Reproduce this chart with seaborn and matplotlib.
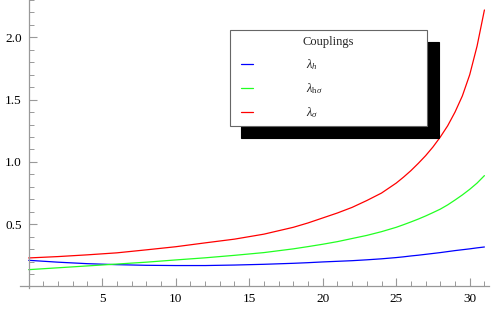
import numpy as np
import pandas as pd
import matplotlib
matplotlib.use("Agg")
import matplotlib.pyplot as plt
from matplotlib.ticker import FixedLocator
from matplotlib.lines import Line2D
from matplotlib.legend_handler import HandlerLine2D
import seaborn as sns

# values
t = [0, 2, 4, 6, 8, 10, 12, 14, 16, 18, 19, 20, 21, 22, 23, 24, 25, 25.5, 26, 26.5,
     27, 27.5, 28, 28.5, 29, 29.5, 30, 30.5, 31]
lam_h = [0.210, 0.195, 0.183, 0.175, 0.170, 0.168, 0.168, 0.172, 0.178, 0.186, 0.191,
         0.197, 0.202, 0.207, 0.214, 0.222, 0.232, 0.238, 0.245, 0.251, 0.258, 0.265,
         0.272, 0.280, 0.288, 0.295, 0.302, 0.310, 0.317]
lam_hs = [0.135, 0.150, 0.165, 0.180, 0.195, 0.213, 0.230, 0.250, 0.272, 0.302, 0.320,
          0.339, 0.360, 0.385, 0.410, 0.440, 0.475, 0.496, 0.518, 0.541, 0.566, 0.593,
          0.621, 0.655, 0.694, 0.735, 0.780, 0.830, 0.890]
lam_s = [0.229, 0.240, 0.254, 0.270, 0.294, 0.319, 0.350, 0.380, 0.420, 0.475, 0.510,
         0.550, 0.590, 0.635, 0.690, 0.750, 0.830, 0.878, 0.930, 0.988, 1.050, 1.120,
         1.200, 1.290, 1.400, 1.530, 1.700, 1.930, 2.220]

labels = [r"$\lambda_h$", r"$\lambda_{\mathrm{h}\sigma}$", r"$\lambda_\sigma$"]
colors = ["#0000ff", "#22ff22", "#ff0000"]

x_major = [5, 10, 15, 20, 25, 30]
y_major = [0.5, 1.0, 1.5, 2.0]

df = pd.concat([
    pd.DataFrame({"t": t, "value": v, "coupling": lab})
    for v, lab in zip([lam_h, lam_hs, lam_s], labels)
])

sns.set_style("white")
plt.rcParams["font.family"] = ["Liberation Serif", "DejaVu Serif"]
plt.rcParams["mathtext.fontset"] = "custom"
plt.rcParams["mathtext.rm"] = "Liberation Serif"
plt.rcParams["mathtext.it"] = "Liberation Serif:italic"

fig = plt.figure(figsize=(5, 3.13), dpi=100)
ax = fig.add_axes([0, 0, 1, 1])
ax.set_facecolor("white")

sns.lineplot(data=df, x="t", y="value", hue="coupling", hue_order=labels,
             palette=colors, linewidth=0.9, ax=ax)

ax.set_xlim(-1.95, 32.06)
ax.set_ylim(-0.213, 2.30)
ax.set_xlabel("")
ax.set_ylabel("")

for s in ["top", "right"]:
    ax.spines[s].set_visible(False)
ax.spines["left"].set_position(("data", 0))
ax.spines["bottom"].set_position(("data", 0))
ax.spines["bottom"].set_bounds(-0.6, 31.3)
ax.spines["left"].set_bounds(-0.01, 2.30)
for s in ["left", "bottom"]:
    ax.spines[s].set_color("#999999")
    ax.spines[s].set_linewidth(0.9)

ax.set_xticks(x_major)
ax.set_xticklabels([str(v) for v in x_major])
ax.set_yticks(y_major)
ax.set_yticklabels([f"{v:.1f}" for v in y_major])
ax.xaxis.set_minor_locator(FixedLocator([v for v in range(1, 32) if v % 5]))
ax.yaxis.set_minor_locator(FixedLocator([round(0.1 * k, 1) for k in range(1, 24) if k % 5]))
ax.tick_params(which="both", bottom=True, left=True, direction="in", color="#999999")
ax.tick_params(which="major", length=6, width=0.8, labelsize=9.5, labelcolor="black")
ax.tick_params(which="minor", length=3.5, width=0.7)
ax.tick_params(axis="x", which="major", pad=5)
ax.tick_params(axis="y", which="major", pad=5)

handles, labs = ax.get_legend_handles_labels()
leg = ax.legend(handles, labs, title="Couplings", loc="upper left",
                bbox_to_anchor=(0.459, 0.8936, 0.395, 0.01), mode="expand",
                fancybox=False, framealpha=1, edgecolor="#666666",
                fontsize=9, title_fontsize=9, handlelength=1.4,
                handler_map={Line2D: HandlerLine2D(xpad=0.4)},
                handletextpad=4.2, labelspacing=0.72, borderpad=0.5,
                borderaxespad=0,
                shadow={"color": "black", "alpha": 1, "ox": 8.4, "oy": -8.4})
leg.get_frame().set_linewidth(0.8)

fig.savefig("out.png", dpi=100)
